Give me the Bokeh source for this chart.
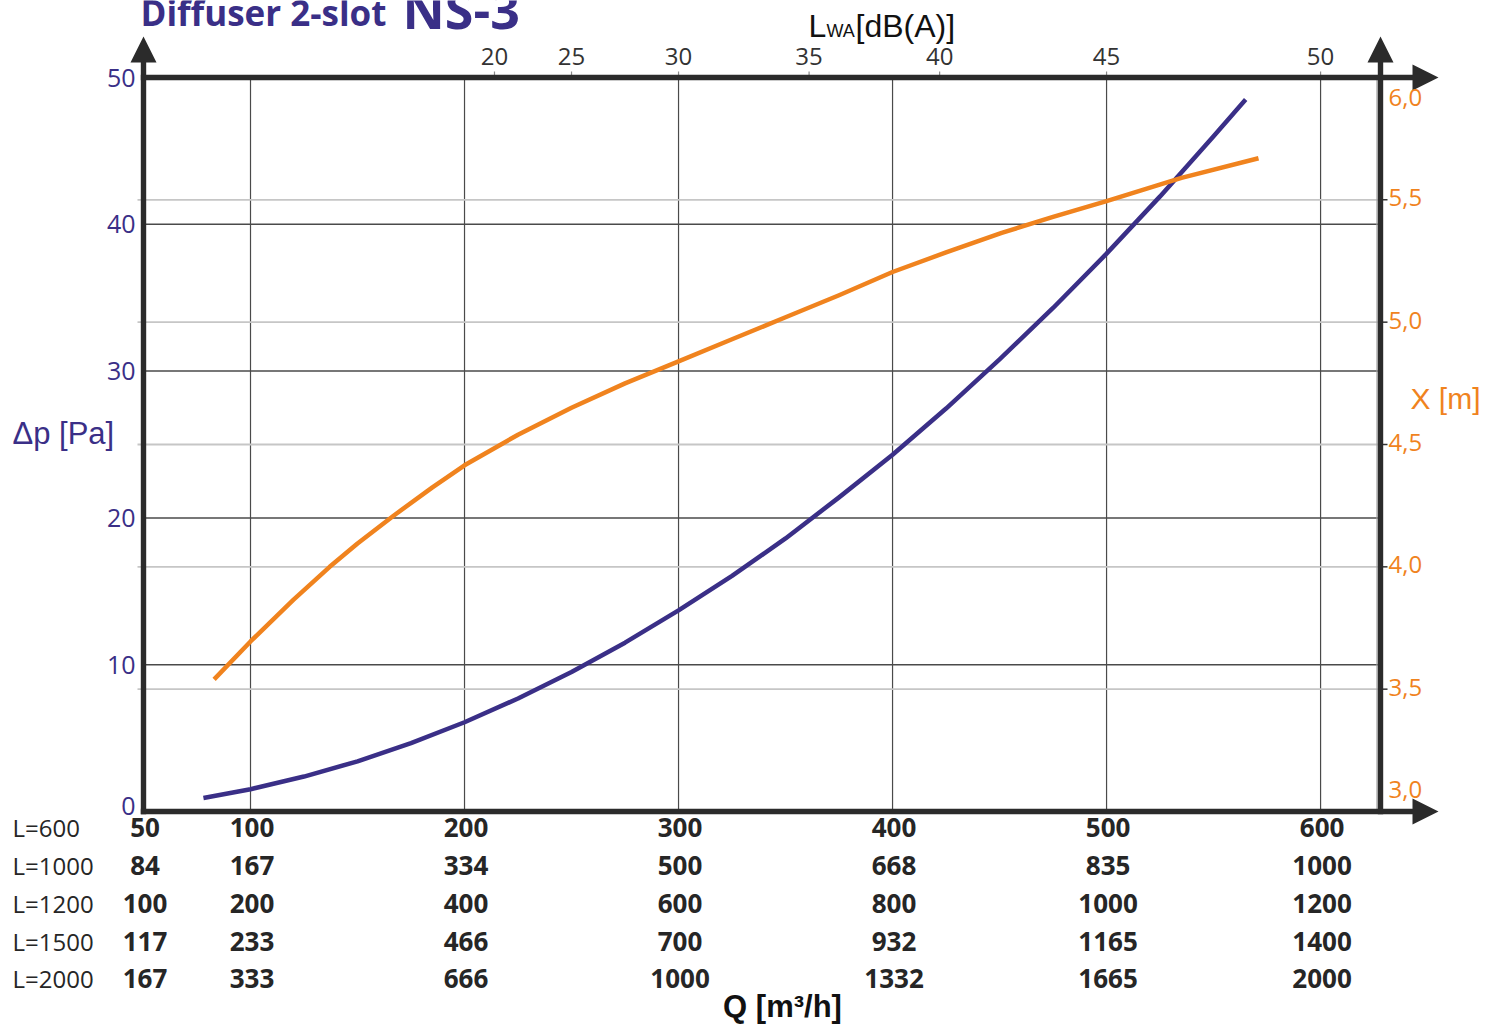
from bokeh.plotting import figure
from bokeh.models import Range1d
from bokeh.core.properties import value
from bokeh.embed import file_html
from bokeh.resources import INLINE

# ---------------- data ----------------
Q_TICKS = [50, 100, 200, 300, 400, 500, 600]
Q_GRID = [100, 200, 300, 400, 500, 600]
ROW_NAMES = ["L=600", "L=1000", "L=1200", "L=1500", "L=2000"]
ROW_L600 = [50, 100, 200, 300, 400, 500, 600]
ROW_L1000 = [84, 167, 334, 500, 668, 835, 1000]
ROW_L1200 = [100, 200, 400, 600, 800, 1000, 1200]
ROW_L1500 = [117, 233, 466, 700, 932, 1165, 1400]
ROW_L2000 = [167, 333, 666, 1000, 1332, 1665, 2000]

DP_TICKS = [0, 10, 20, 30, 40, 50]
DP_GRID = [10, 20, 30, 40]
X_TICKS = [3.0, 3.5, 4.0, 4.5, 5.0, 5.5, 6.0]
X_TICK_LABELS = ["3,0", "3,5", "4,0", "4,5", "5,0", "5,5", "6,0"]

LWA_VALUES = [20, 25, 30, 35, 40, 45, 50]
LWA_AT_Q = [214, 250, 300, 361, 422, 500, 600]

# pressure drop curve (blue)
Q_DP = [78, 100, 125, 150, 175, 200, 225, 250, 275, 300, 325, 350, 375, 400,
        425, 450, 475, 500, 525, 550, 565]
DP = [0.92, 1.52, 2.38, 3.42, 4.66, 6.08, 7.70, 9.50, 11.5, 13.7, 16.05, 18.6, 21.4, 24.3,
      27.45, 30.8, 34.3, 38.0, 41.9, 46.0, 48.5]

# throw curve (orange)
Q_X = [83, 100, 120, 137, 150, 167, 185, 200, 225, 250, 275, 300, 325, 350, 375, 400,
       425, 451, 475, 500, 535, 571]
X_M = [3.54, 3.695, 3.865, 4.00, 4.095, 4.21, 4.325, 4.415, 4.54, 4.65, 4.75, 4.84, 4.93,
       5.02, 5.11, 5.205, 5.285, 5.365, 5.43, 5.495, 5.59, 5.67]

# ---------------- layout ----------------
W, H = 1488, 1024
FL, FR, FT, FB = 143, 1380, 77, 811          # plot area in pixels
Q0, Q1 = 50, 628
DP0, DP1 = 0, 50
X0, X1 = 3.0, 6.0

BLUE = "#3a2f87"
ORANGE = "#f0831e"
AX = "#2b2b2b"
TXT = "#262626"


def qx(px):
    return Q0 + (px - FL) * (Q1 - Q0) / (FR - FL)


def dy(py):
    return DP0 + (FB - py) * (DP1 - DP0) / (FB - FT)


def xm(py):
    return X0 + (FB - py) * (X1 - X0) / (FB - FT)


def py_of_dp(v):
    return FB - (v - DP0) * (FB - FT) / (DP1 - DP0)


p = figure(width=W, height=H, output_backend="svg", toolbar_location=None, title=None,
           x_range=Range1d(qx(0), qx(W)), y_range=Range1d(dy(H), dy(0)),
           x_axis_location=None, y_axis_location=None, min_border=0)
p.extra_y_ranges = {"xm": Range1d(xm(H), xm(0))}
p.outline_line_color = None
p.background_fill_color = "white"
p.border_fill_color = "white"
p.grid.visible = False
p.xgrid.visible = False
p.ygrid.visible = False


def txt(x, y, t, size, color=TXT, align="left", font="Open Sans", style="normal",
        y_range_name="default"):
    n = len(t)
    p.text(x=x if isinstance(x, list) else [x] * n,
           y=y if isinstance(y, list) else [y] * n,
           text=t, text_align=align, text_baseline="middle",
           text_font=value(font), text_font_size=value(size), text_font_style=style,
           text_color=color, y_range_name=y_range_name)


# ---- grid lines ----
p.segment(x0=Q_GRID, y0=[DP0] * len(Q_GRID), x1=Q_GRID, y1=[DP1] * len(Q_GRID),
          line_color="#4a4a4a", line_width=1.2)
p.segment(x0=[Q0] * len(DP_GRID), y0=DP_GRID, x1=[Q1] * len(DP_GRID), y1=DP_GRID,
          line_color="#4a4a4a", line_width=1.5)
XG = X_TICKS[1:-1]
p.segment(x0=[qx(FL - 6)] * len(XG), y0=XG, x1=[Q1] * len(XG), y1=XG,
          line_color="#c6c6c6", line_width=1.8, y_range_name="xm")
# thin grey companion line of the right axis
p.segment(x0=[qx(FR - 3.5)], y0=[DP0], x1=[qx(FR - 3.5)], y1=[DP1],
          line_color="#a0a0a0", line_width=1.2)

# ---- tick marks ----
p.segment(x0=LWA_AT_Q, y0=[DP1] * len(LWA_AT_Q), x1=LWA_AT_Q, y1=[dy(FT - 6)] * len(LWA_AT_Q),
          line_color="#8a8a8a", line_width=1.2)
p.segment(x0=[Q1] * len(XG), y0=XG, x1=[qx(FR + 7)] * len(XG), y1=XG,
          line_color="#333333", line_width=1.5, y_range_name="xm")

# ---- curves ----
p.line(Q_DP, DP, line_color=BLUE, line_width=4.5, line_join="round")
p.line(Q_X, X_M, line_color=ORANGE, line_width=4.5, y_range_name="xm", line_join="round")

# ---- axis lines with arrow heads ----
SW, HW = 2.7, 13
axs, ays = [], []
for xc in (FL, FR):
    px = [xc - SW, xc - SW, xc - HW, xc, xc + HW, xc + SW, xc + SW]
    py = [FB + SW, 62, 62, 36, 62, 62, FB + SW]
    axs.append([qx(v) for v in px])
    ays.append([dy(v) for v in py])
for yc in (FT, FB):
    px = [FL - SW, 1412, 1412, 1438, 1412, 1412, FL - SW]
    py = [yc - SW, yc - SW, yc - HW, yc, yc + HW, yc + SW, yc + SW]
    axs.append([qx(v) for v in px])
    ays.append([dy(v) for v in py])
p.patches(xs=axs, ys=ays, fill_color=AX, line_color=None)

# ---- left axis labels (delta p) ----
txt(qx(FL - 8), [dy(min(py_of_dp(v), FB - 6)) for v in DP_TICKS], [str(v) for v in DP_TICKS],
    "25px", color=BLUE, align="right")

# ---- right axis labels (throw X) ----
x_lab_py = []
for v in X_TICKS:
    py = FB - (v - X0) * (FB - FT) / (X1 - X0) - 2
    x_lab_py.append(min(max(py, 97), 789))
txt(qx(FR + 8), [dy(v) for v in x_lab_py], X_TICK_LABELS, "24px", color=ORANGE)

# ---- top axis labels (sound power) ----
txt(LWA_AT_Q, dy(56), [str(v) for v in LWA_VALUES], "24px", color="#333333", align="center")

# ---- bottom table ----
ROW_PY = [827, 865, 903, 941, 978]
rows = [ROW_L600, ROW_L1000, ROW_L1200, ROW_L1500, ROW_L2000]
for r, py in zip(rows, ROW_PY):
    txt([q + qx(FL + 1.5) - Q0 for q in Q_TICKS], dy(py), [str(v) for v in r], "26px",
        align="center", style="bold")
txt(qx(12), [dy(py) for py in ROW_PY], ROW_NAMES, "24px")

# ---- axis titles ----
txt(qx(12), dy(433), ["\u0394p [Pa]"], "31px", color=BLUE, font="Liberation Sans")
txt(qx(1410), dy(398), ["X [m]"], "30px", color=ORANGE, font="Liberation Sans")
txt(qx(782), dy(1006), ["Q [m\u00b3/h]"], "31px", color="#111111", align="center",
    font="Liberation Sans", style="bold")
txt(qx(808), dy(25), ["L"], "32px", color="#111111", font="Liberation Sans")
txt(qx(826), dy(30), ["WA"], "18px", color="#111111", font="Liberation Sans")
txt(qx(855), dy(25), ["[dB(A)]"], "32px", color="#111111", font="Liberation Sans")

# ---- title ----
txt(qx(140), dy(12), ["Diffuser 2-slot"], "35px", color=BLUE, style="bold")
txt(qx(402), dy(8), ["NS-3"], "52px", color=BLUE, style="bold")

open("out.html", "w").write(file_html(p, INLINE))
